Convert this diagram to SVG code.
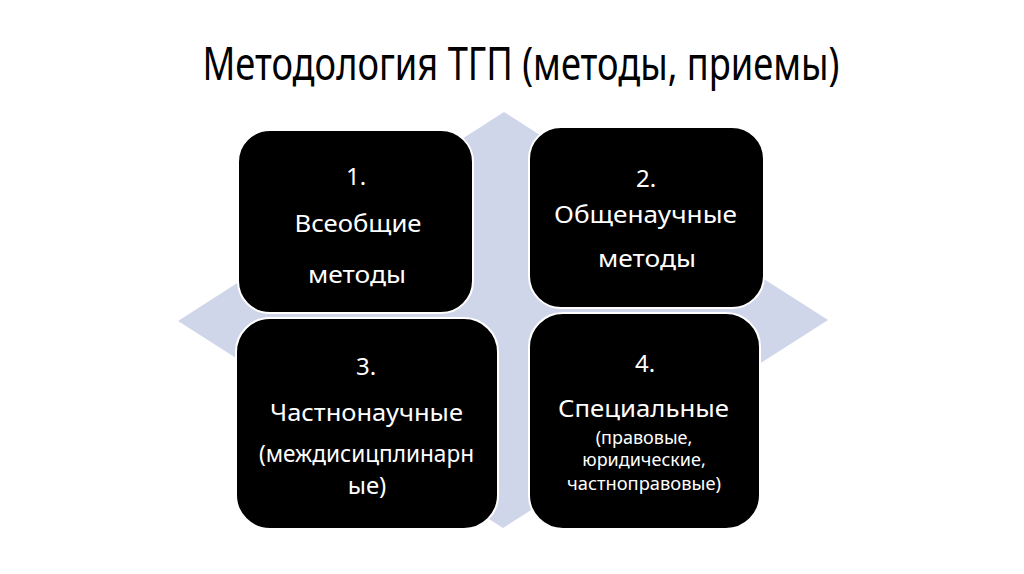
<svg xmlns="http://www.w3.org/2000/svg" width="1024" height="574" viewBox="0 0 1024 574">
<style>
.bg{fill:#ffffff}
.dia{fill:#D0D6EA}
.box{fill:#000000;stroke:#ffffff;stroke-width:2}
.t{font-family:"Noto Sans","Open Sans","Liberation Sans",sans-serif;fill:#ffffff;text-anchor:middle}
.big{font-size:24px}
.sm{font-size:18px}
.title{font-family:"Noto Sans","Open Sans","Liberation Sans",sans-serif;font-size:46px;fill:#000000;text-anchor:middle}
</style>
<rect class="bg" x="0" y="0" width="1024" height="574"/>
<text class="title" x="521" y="80" textLength="637" lengthAdjust="spacingAndGlyphs">Методология ТГП (методы, приемы)</text>
<g id="diamond">
<polygon class="dia" points="504,112 828,320 503,528 178,321"/>
</g>
<g id="connectors"></g>
<g id="node1">
<rect class="box" x="238" y="130" width="235" height="183" rx="32"/>
<text class="t big" x="356" y="185">1.</text>
<text class="t big" x="358" y="232" textLength="127" lengthAdjust="spacingAndGlyphs">Всеобщие</text>
<text class="t big" x="357" y="283" textLength="98" lengthAdjust="spacingAndGlyphs">методы</text>
</g>
<g id="node2">
<rect class="box" x="529" y="127" width="235" height="181" rx="32"/>
<text class="t big" x="646" y="187">2.</text>
<text class="t big" x="645.5" y="223" textLength="183" lengthAdjust="spacingAndGlyphs">Общенаучные</text>
<text class="t big" x="647" y="267" textLength="98" lengthAdjust="spacingAndGlyphs">методы</text>
</g>
<g id="node3">
<rect class="box" x="236" y="318" width="262" height="211" rx="34"/>
<text class="t big" x="366" y="375">3.</text>
<text class="t big" x="366.5" y="421" textLength="193" lengthAdjust="spacingAndGlyphs">Частнонаучные</text>
<text class="t big" x="366.5" y="462" font-size="23" textLength="215" lengthAdjust="spacingAndGlyphs">(междисицплинарн</text>
<text class="t big" x="367" y="494">ые)</text>
</g>
<g id="node4">
<rect class="box" x="529" y="313" width="231" height="216" rx="34"/>
<text class="t big" x="645" y="372">4.</text>
<text class="t big" x="643.5" y="417" textLength="171" lengthAdjust="spacingAndGlyphs">Специальные</text>
<text class="t sm" x="644" y="444">(правовые,</text>
<text class="t sm" x="644" y="466">юридические,</text>
<text class="t sm" x="644" y="490" textLength="154" lengthAdjust="spacingAndGlyphs">частноправовые)</text>
</g>
</svg>
